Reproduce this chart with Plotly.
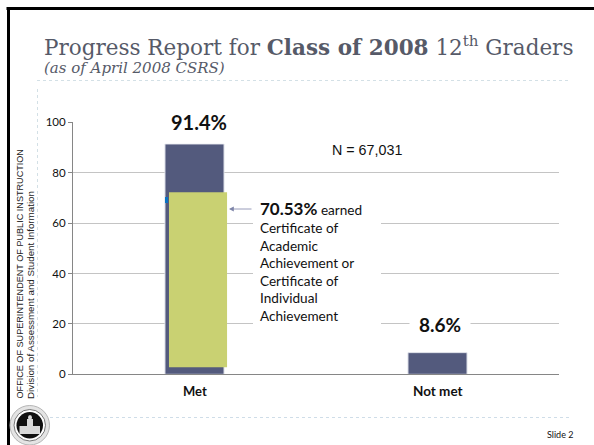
import plotly.graph_objects as go

W, H = 594, 445
categories = ["Met", "Not met"]
values = [91.4, 8.6]
labels = ["91.4%", "8.6%"]
tick_vals = [0, 20, 40, 60, 80, 100]
overlay_category = ["Met"]
overlay_base = [2.8]
overlay_height = [69.4]

NAVY = "#535a7d"
GREEN = "#c9d172"
GRID = "#c4c4c4"
AXIS = "#868686"
TEXT = "#111111"
SLATE = "#565a68"
DOT = "#d3e0e6"
GILL = "Lato, 'Open Sans', sans-serif"
ARIAL = "'Liberation Sans', Arial, sans-serif"
SERIF = "'DejaVu Serif', serif"

def px(x): return x / W
def py(y): return 1 - y / H

fig = go.Figure()
fig.add_bar(x=categories, y=values, width=0.243, marker=dict(color=NAVY, line=dict(color="#dfe2ea", width=1)),
            showlegend=False, hoverinfo="skip")
fig.add_bar(x=overlay_category, y=overlay_height, base=overlay_base, width=0.239, offset=-0.105,
            marker=dict(color=GREEN, line=dict(width=0)), showlegend=False, hoverinfo="skip")

shapes = []
def pshape(kind, x0, y0, x1, y1, **kw):
    shapes.append(dict(type=kind, xref="paper", yref="paper", x0=px(x0), x1=px(x1), y0=py(y0), y1=py(y1), **kw))

pshape("line", 6.5, 8.5, 594, 8.5, line=dict(color="#000000", width=3))
pshape("line", 8.5, 7, 8.5, 445, line=dict(color="#000000", width=3))
pshape("line", 37, 80.5, 569, 80.5, line=dict(color=DOT, width=1, dash="dot"))
pshape("line", 37.5, 89, 37.5, 397, line=dict(color=DOT, width=1, dash="dot"))
pshape("line", 50, 417.5, 569, 417.5, line=dict(color="#cfdde8", width=1, dash="dot"))
pshape("rect", 165, 197, 168, 203, fillcolor="#0a72c2", line=dict(width=0), layer="above")
pshape("rect", 253, 195, 381, 330, fillcolor="#ffffff", line=dict(width=0), layer="above")
pshape("circle", 10, 405.5, 49.5, 445, fillcolor="#e4e4e4", line=dict(color="#b5b5b5", width=1))
pshape("circle", 14, 409.5, 45.5, 441, fillcolor="#ffffff", line=dict(color="#777777", width=1))
pshape("circle", 16.5, 412, 43, 438.5, fillcolor="#111111", line=dict(width=0))
pshape("rect", 19.5, 426, 40, 434, fillcolor="#d9d9d9", line=dict(width=0))
pshape("rect", 27, 419, 33, 426, fillcolor="#d9d9d9", line=dict(width=0))
pshape("circle", 28, 415, 32, 420, fillcolor="#d9d9d9", line=dict(width=0))

ann = []
def note(x, y, text, size, family=GILL, color=TEXT, xanchor="left", yanchor="middle", **kw):
    ann.append(dict(xref="paper", yref="paper", x=px(x), y=py(y), text=text, showarrow=False,
                    xanchor=xanchor, yanchor=yanchor, font=dict(family=family, size=size, color=color), **kw))

note(42, 46, "Progress Report for <b>Class of 2008</b> 12<sup>th</sup> Graders", 21.5, SERIF, SLATE)
note(42, 68, "<i>(as of April 2008 CSRS)</i>", 15, SERIF, SLATE)
note(330, 150, "N = 67,031", 14.3, ARIAL)
note(199, 122, f"<b>{labels[0]}</b>", 20, xanchor="center", bgcolor="#ffffff", borderpad=9)
note(440, 324, f"<b>{labels[1]}</b>", 19, xanchor="center", bgcolor="#ffffff", borderpad=9)
note(195, 391, f"<b>{categories[0]}</b>", 13, xanchor="center")
note(438, 391, f"<b>{categories[1]}</b>", 13.5, xanchor="center")
note(258, 209, "<b><span style='font-size:17px'>70.53%</span></b> earned", 13.6)
for i, line in enumerate(["Certificate of", "Academic", "Achievement or", "Certificate of", "Individual", "Achievement"]):
    note(258, 228 + i * 17.6, line, 13.6)
note(575, 434, "Slide 2", 9, xanchor="right")
note(19, 401, "OFFICE OF SUPERINTENDENT OF PUBLIC INSTRUCTION", 9.1, ARIAL, "#222222", xanchor="center", yanchor="bottom", textangle=-90)
note(30, 401, "Division of Assessment and Student Information", 9.8, ARIAL, "#222222", xanchor="center", yanchor="bottom", textangle=-90)
ann.append(dict(xref="paper", yref="paper", axref="pixel", ayref="pixel", x=px(229), y=py(209), ax=24, ay=0,
                text="", showarrow=True, arrowhead=2, arrowsize=1.2, arrowwidth=0.8, arrowcolor="#7d84a8", arrowside="end"))

fig.update_layout(
    width=W, height=H, margin=dict(l=0, r=0, t=0, b=0, autoexpand=False), paper_bgcolor="#ffffff", plot_bgcolor="#ffffff",
    barmode="overlay", shapes=shapes, annotations=ann, showlegend=False,
    xaxis=dict(domain=[px(73), px(559)], showgrid=False, showticklabels=False, ticks="", showline=True,
               linecolor=AXIS, linewidth=1, zeroline=False, categoryorder="array", categoryarray=categories),
    yaxis=dict(domain=[py(374.3), py(122.3)], range=[0, 100], tickvals=tick_vals, showgrid=True, gridcolor=GRID,
               gridwidth=1, zeroline=False, showline=True, linecolor=AXIS, linewidth=1, ticks="outside", ticklen=4,
               tickcolor=AXIS, tickfont=dict(family=GILL, size=11.5, color=TEXT)),
)
pre = "document.documentElement.style.margin='0';document.body.style.margin='0';document.body.style.padding='0';"
fig.write_html("out.html", config=dict(displayModeBar=False), post_script=pre)
